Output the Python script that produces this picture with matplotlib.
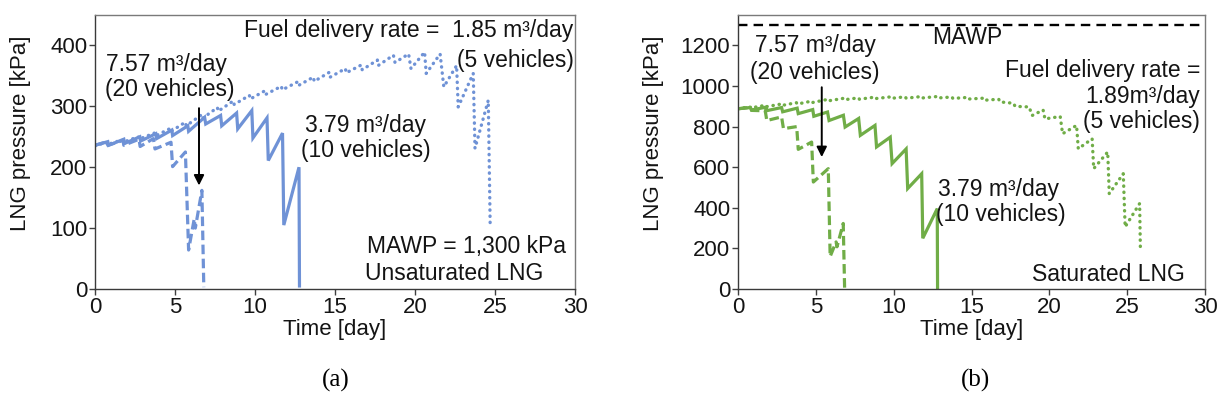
import matplotlib
matplotlib.use("Agg")
import matplotlib.pyplot as plt

plt.rcParams['font.family'] = ['Liberation Sans', 'DejaVu Sans']

# ---------------- (a) unsaturated LNG ----------------
t_a_20 = [0, 0.75, 0.8, 1.75, 1.8, 2.75, 2.82, 3.65, 3.75, 4.75, 4.85, 5.65, 5.85,
          6.2, 6.27, 6.68, 6.8]
p_a_20 = [236, 242, 236, 244, 236, 246, 234, 247, 230, 241, 201, 225, 64,
          115, 100, 162, 3]

t_a_10 = [0, 0.8, 0.85, 1.8, 1.85, 2.8, 2.85, 3.8, 3.85, 4.8, 4.85, 5.8, 5.85,
          6.85, 6.92, 7.85, 7.92, 8.85, 8.92, 9.8, 9.87, 10.75, 10.83,
          11.72, 11.8, 12.75, 12.78]
p_a_10 = [236, 242, 236, 246, 239, 250, 243, 255, 247, 261, 252, 268, 259,
          282, 271, 285, 268, 289, 263, 293, 248, 281, 211,
          256, 105, 200, 5]

t_a_5 = [0, 0.7, 0.75, 1.7, 1.75, 2.7, 2.75, 3.7, 3.75, 4.65, 4.7, 5.65, 5.7,
         6.65, 6.7, 7.65, 7.7, 8.65, 8.7, 9.65, 9.7, 10.65, 10.7, 11.65, 11.7,
         12.65, 12.7, 13.65, 13.7, 14.65, 14.7, 15.65, 15.7, 16.65, 16.7,
         17.65, 17.7, 18.65, 18.75, 19.6, 19.75, 20.6, 20.7, 21.57, 21.8,
         22.6, 22.7, 23.64, 23.75, 24.58, 24.7]
p_a_5 = [235, 241, 237, 245, 241, 250, 246, 256, 251, 263, 258, 274, 268,
         286, 280, 298, 292, 309, 303, 318, 312, 326, 320, 333, 327,
         340, 334, 348, 341, 356, 348, 362, 355, 368, 360,
         376, 367, 384, 372, 386, 362, 389, 354, 386, 332,
         367, 299, 354, 231, 310, 102]

# ---------------- (b) saturated LNG ----------------
t_b_20 = [0, 0.8, 0.87, 1.75, 1.85, 2.8, 2.92, 3.77, 3.87, 4.73, 4.84, 5.8, 5.92,
          6.3, 6.36, 6.76, 6.85]
p_b_20 = [888, 895, 880, 878, 830, 848, 790, 800, 688, 724, 527, 593, 160,
          232, 208, 323, 0]

t_b_10 = [0, 0.8, 0.87, 1.8, 1.87, 2.8, 2.87, 3.8, 3.87, 4.8, 4.87, 5.75, 5.85,
          6.77, 6.88, 7.75, 7.86, 8.8, 8.9, 9.78, 9.9, 10.8, 10.9, 11.8, 11.87,
          12.8, 12.82]
p_b_10 = [888, 894, 882, 896, 879, 894, 873, 891, 864, 884, 851, 872, 830,
          856, 798, 840, 757, 806, 700, 748, 618, 690, 495, 568, 250,
          396, 0]

t_b_5 = [0, 0.75, 0.8, 1.75, 1.8, 2.75, 2.8, 3.75, 3.8, 4.75, 4.8, 5.75, 5.8,
         6.75, 6.8, 7.75, 7.8, 8.75, 8.8, 9.75, 9.8, 10.75, 10.8, 11.75, 11.8,
         12.75, 12.8, 13.75, 13.8, 14.75, 14.8, 15.75, 15.8, 16.75, 16.82,
         17.7, 17.8, 18.7, 18.9, 19.6, 19.72, 20.7, 20.85, 21.75, 21.86,
         22.75, 22.85, 23.75, 23.85, 24.75, 24.87, 25.8, 25.85]
p_b_5 = [888, 898, 892, 905, 898, 911, 904, 918, 911, 926, 919, 934, 927,
         939, 932, 942, 935, 945, 938, 946, 939, 947, 940, 948, 941,
         948, 941, 946, 939, 944, 936, 940, 930, 935, 922,
         915, 900, 897, 855, 882, 838, 850, 765, 806, 691,
         740, 593, 675, 470, 568, 306, 421, 195]

mawp_b = 1300

x_ticks = [0, 5, 10, 15, 20, 25, 30]
y_ticks_a = [0, 100, 200, 300, 400]
y_ticks_b = [0, 200, 400, 600, 800, 1000, 1200]

blue = '#6F92D6'
green = '#70AD47'
FS = 16        # ticks and axis titles
FA = 16.5      # in-plot annotations
INK = '#141414'

W, H = 1220, 409
fig = plt.figure(figsize=(W / 100, H / 100), dpi=100)
ax_a = fig.add_axes([95 / W, 1 - 289 / H, 480 / W, 274 / H])
ax_b = fig.add_axes([738 / W, 1 - 289 / H, 467 / W, 274 / H])

solid = dict(linestyle='-', lw=2.3, solid_joinstyle='miter')
dashed = dict(linestyle=(0, (3.0, 1.4)), lw=2.3)
dotted = dict(linestyle=(0, (0.1, 1.75)), lw=2.4, dash_capstyle='round')

ax_a.plot(t_a_5, p_a_5, color=blue, **dotted)
ax_a.plot(t_a_20, p_a_20, color=blue, **dashed)
ax_a.plot(t_a_10, p_a_10, color=blue, **solid)

ax_b.axhline(mawp_b, color='black', linestyle=(0, (4, 2.6)), lw=1.7)
ax_b.plot(t_b_5, p_b_5, color=green, **dotted)
ax_b.plot(t_b_20, p_b_20, color=green, **dashed)
ax_b.plot(t_b_10, p_b_10, color=green, **solid)

for ax, yt, ymax in ((ax_a, y_ticks_a, 450), (ax_b, y_ticks_b, 1350)):
    ax.set_xlim(0, 30)
    ax.set_ylim(0, ymax)
    ax.set_xticks(x_ticks)
    ax.set_yticks(yt)
    ax.tick_params(direction='out', length=4, width=1, color='#404040',
                   labelsize=FS, labelcolor=INK, pad=1.5)
    for name, s in ax.spines.items():
        s.set_linewidth(1.0)
        s.set_color('#3a3a3a' if name in ('left', 'bottom') else '#7a7a7a')
    ax.set_xlabel('Time [day]', fontsize=FS, color=INK)
    ax.set_ylabel('LNG pressure [kPa]', fontsize=FS, color=INK)
    ax.xaxis.set_label_coords(0.5, -0.108)

ax_a.yaxis.set_label_coords(-0.133, 0.57)
ax_b.yaxis.set_label_coords(-0.158, 0.57)

tk = dict(fontsize=FA, color=INK, va='center')
arrow = dict(arrowstyle='-|>', color='black', lw=1.4, mutation_scale=15,
             shrinkA=0, shrinkB=0)

# annotations, panel (a)
ax_a.text(29.9, 425, 'Fuel delivery rate =  1.85 m³/day', ha='right', **tk)
ax_a.text(29.9, 376, '(5 vehicles)', ha='right', **tk)
ax_a.text(0.7, 368, '7.57 m³/day', ha='left', **tk)
ax_a.text(0.65, 327, '(20 vehicles)', ha='left', **tk)
ax_a.text(13.1, 269, '3.79 m³/day', ha='left', **tk)
ax_a.text(12.85, 228, '(10 vehicles)', ha='left', **tk)
ax_a.text(17.0, 69, 'MAWP = 1,300 kPa', ha='left', **tk)
ax_a.text(16.9, 26, 'Unsaturated LNG', ha='left', **tk)
ax_a.annotate('', xy=(6.5, 170), xytext=(6.5, 297), arrowprops=arrow)

# annotations, panel (b)
ax_b.text(12.5, 1237, 'MAWP', ha='left', **tk)
ax_b.text(1.1, 1202, '7.57 m³/day', ha='left', **tk)
ax_b.text(0.77, 1069, '(20 vehicles)', ha='left', **tk)
ax_b.text(29.7, 1079, 'Fuel delivery rate =', ha='right', **tk)
ax_b.text(29.7, 946, '1.89m³/day', ha='right', **tk)
ax_b.text(29.7, 823, '(5 vehicles)', ha='right', **tk)
ax_b.text(12.85, 488, '3.79 m³/day', ha='left', **tk)
ax_b.text(12.72, 365, '(10 vehicles)', ha='left', **tk)
ax_b.text(28.7, 69, 'Saturated LNG', ha='right', **tk)
ax_b.annotate('', xy=(5.38, 650), xytext=(5.38, 994), arrowprops=arrow)

serif = ['Liberation Serif', 'DejaVu Serif']
fig.text(336 / W, 1 - 380 / H, '(a)', ha='center', va='center', fontsize=18,
         family=serif)
fig.text(975 / W, 1 - 380 / H, '(b)', ha='center', va='center', fontsize=18,
         family=serif)

fig.savefig('out.png', dpi=100, facecolor='white')
